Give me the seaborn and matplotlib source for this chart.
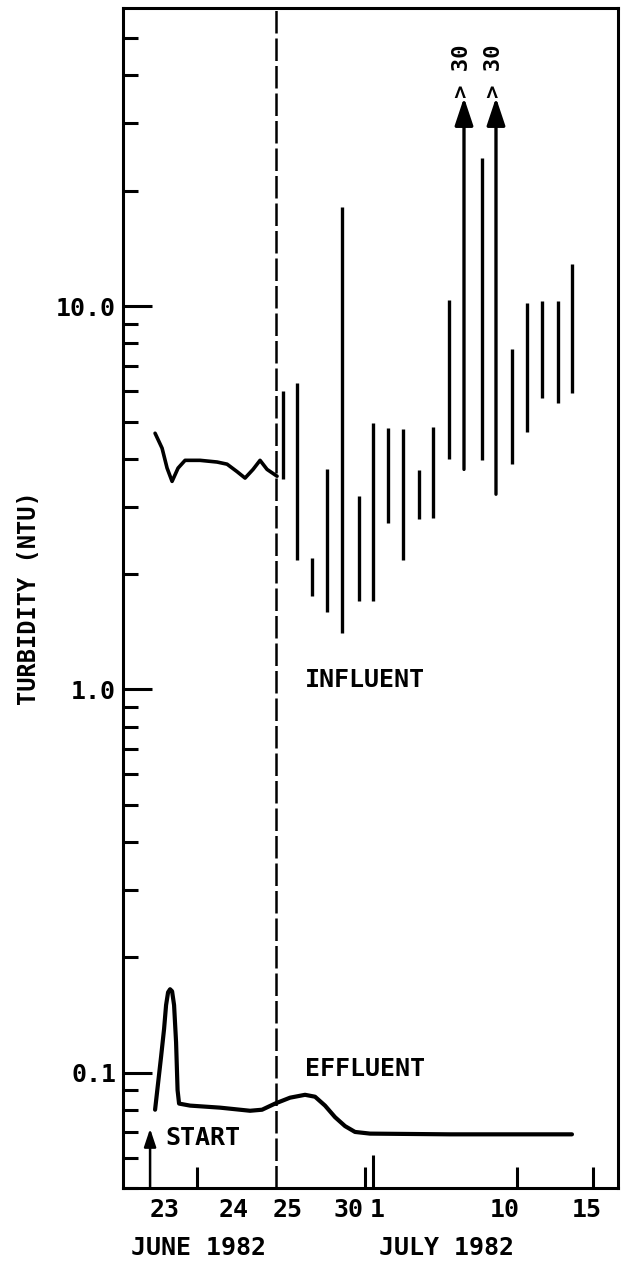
import numpy as np
import matplotlib
matplotlib.use('Agg')
import matplotlib.pyplot as plt
import seaborn as sns
from matplotlib.ticker import FixedLocator, NullFormatter

# horizontal position on the (non-linear) date axis
bar_x = [283, 297, 312, 327, 342, 359, 373, 388, 403, 419, 433, 449, 482, 512, 527, 542, 558, 572]
bar_low = [3.55, 2.18, 1.75, 1.59, 1.40, 1.70, 1.70, 2.71, 2.18, 2.78, 2.80, 3.99, 3.96, 3.87, 4.69, 5.75, 5.58, 5.93]
bar_high = [6.0, 6.3, 2.2, 3.75, 18.1, 3.19, 4.95, 4.8, 4.77, 3.73, 4.83, 10.4, 24.3, 7.72, 10.2, 10.3, 10.3, 12.9]

# bars that go off the top (> 30 NTU)
over_x = [464, 496]
over_low = [3.75, 3.23]
over_tip = 35

# continuous influent record before June 25
inf_x = [155, 162, 167, 172, 178, 185, 200, 217, 227, 237, 245, 253, 260, 267, 277]
inf_y = [4.66, 4.26, 3.78, 3.49, 3.78, 3.96, 3.96, 3.92, 3.87, 3.70, 3.56, 3.75, 3.96, 3.75, 3.60]

# effluent
eff_x = [155, 161, 164, 166, 168, 170, 172, 174, 176, 177.5, 179, 190, 220, 250, 262, 275, 290, 305, 315, 325, 335, 345, 355, 370, 450, 572]
eff_y = [0.080, 0.110, 0.130, 0.150, 0.162, 0.165, 0.163, 0.150, 0.120, 0.090, 0.083, 0.082, 0.081, 0.0795, 0.080, 0.083, 0.086, 0.0875,
         0.0865, 0.082, 0.0765, 0.0725, 0.070, 0.0693, 0.069, 0.069]

start_x = 150
split_x = 276  # June 25 dashed line

day_labels = ['23', '24', '25', '30', '1', '10', '15']
day_label_x = [165, 234, 288, 348, 377, 505, 587]
day_tick_x = [197, 365, 517, 593]
july1_x = 373

month_labels = ['JUNE 1982', 'JULY 1982']
month_x = [198, 447]

sns.set_style('ticks')
plt.rcParams['font.family'] = ['DejaVu Sans Mono']
plt.rcParams['font.weight'] = 'bold'
plt.rcParams['axes.labelweight'] = 'bold'
for k in ['text.color', 'axes.labelcolor', 'xtick.color', 'ytick.color', 'axes.edgecolor']:
    plt.rcParams[k] = 'black'

fig = plt.figure(figsize=(6.28, 12.67), dpi=100)
ax = fig.add_axes([0.196, 0.0624, 0.788, 0.9313])
ax.set_yscale('log')
ax.set_xlim(123, 618)
ax.set_ylim(0.05, 60)

ax.vlines(bar_x, bar_low, bar_high, color='black', lw=2.4)
for x, lo in zip(over_x, over_low):
    ax.annotate('', xy=(x, over_tip), xytext=(x, lo),
                arrowprops=dict(arrowstyle='-|>,head_length=0.6,head_width=0.2',
                                mutation_scale=28, lw=2.4, color='black',
                                shrinkA=0, shrinkB=0))
    ax.text(x - 2, 41, '> 30', rotation=90, ha='center', va='center', fontsize=16)

sns.lineplot(x=inf_x, y=inf_y, ax=ax, color='black', lw=2.6, estimator=None)
sns.lineplot(x=eff_x, y=eff_y, ax=ax, color='black', lw=3.0, estimator=None)

ax.axvline(split_x, color='black', lw=1.8, linestyle=(0, (9, 2)))

ax.annotate('', xy=(start_x, 0.0714), xytext=(start_x, 0.05),
            arrowprops=dict(arrowstyle='-|>,head_length=0.9,head_width=0.3',
                            mutation_scale=12, lw=1.8, color='black',
                            shrinkA=0, shrinkB=0))
ax.text(165, 0.0675, 'START', ha='left', va='center', fontsize=18)
ax.text(305, 1.06, 'INFLUENT', ha='left', va='center', fontsize=18)
ax.text(305, 0.1024, 'EFFLUENT', ha='left', va='center', fontsize=18)

# y axis
ax.yaxis.set_major_locator(FixedLocator([0.1, 1, 10]))
ax.set_yticklabels(['0.1', '1.0', '10.0'])
minor_y = [0.05, 0.06, 0.07, 0.08, 0.09] + [i / 10 for i in range(2, 10)] + list(range(2, 10)) + [20, 30, 40, 50]
ax.yaxis.set_minor_locator(FixedLocator(minor_y))
ax.yaxis.set_minor_formatter(NullFormatter())
ax.tick_params(axis='y', which='major', direction='in', length=21, width=2.2, labelsize=18, pad=5)
ax.tick_params(axis='y', which='minor', direction='in', length=11, width=2.2)
ax.set_ylabel('TURBIDITY (NTU)', fontsize=17, fontweight='bold', labelpad=11)

# x axis
ax.set_xticks(day_label_x, day_labels)
ax.set_xticks(day_tick_x, minor=True)
ax.tick_params(axis='x', which='major', length=0, labelsize=18, pad=7)
ax.tick_params(axis='x', which='minor', direction='in', length=15, width=2.2)
ax.vlines(july1_x, 0, 0.028, transform=ax.get_xaxis_transform(), color='black', lw=2.2)
for x, m in zip(month_x, month_labels):
    ax.text(x, -0.051, m, transform=ax.get_xaxis_transform(), ha='center', va='center', fontsize=18)

for s in ax.spines.values():
    s.set_linewidth(2.2)
    s.set_color('black')

fig.savefig('out.png', dpi=100)
